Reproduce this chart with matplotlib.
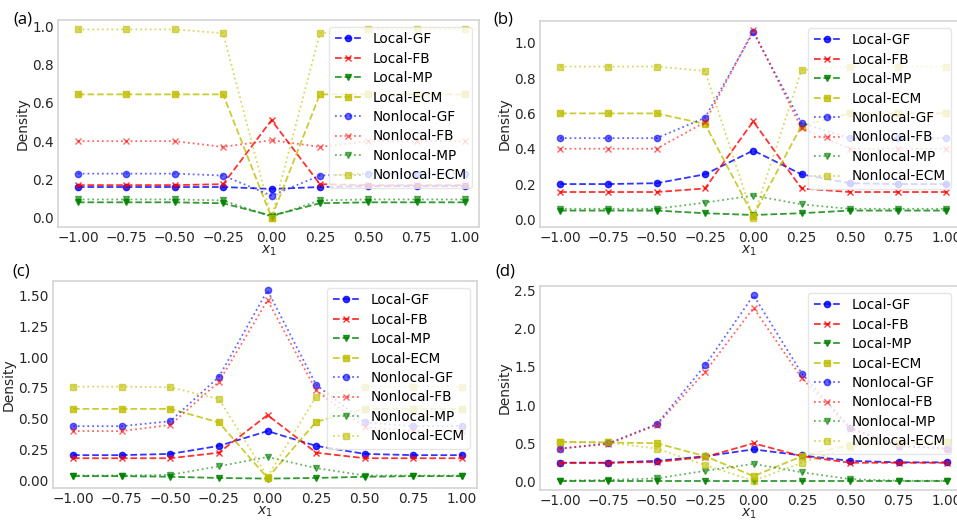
import numpy as np
import matplotlib
matplotlib.use('Agg')
from matplotlib import pyplot as plt

x = [-1.0, -0.75, -0.5, -0.25, 0.0, 0.25, 0.5, 0.75, 1.0]
labels = ['Local-GF', 'Local-FB', 'Local-MP', 'Local-ECM',
          'Nonlocal-GF', 'Nonlocal-FB', 'Nonlocal-MP', 'Nonlocal-ECM']

# panel (a)
local_gf_a = [0.16, 0.16, 0.16, 0.16, 0.15, 0.16, 0.165, 0.165, 0.165]
local_fb_a = [0.17, 0.17, 0.17, 0.175, 0.51, 0.175, 0.17, 0.17, 0.17]
local_mp_a = [0.08, 0.08, 0.08, 0.075, 0.01, 0.075, 0.08, 0.08, 0.08]
local_ecm_a = [0.645, 0.645, 0.645, 0.645, 0.0, 0.645, 0.645, 0.645, 0.645]
nl_gf_a = [0.23, 0.23, 0.23, 0.22, 0.115, 0.22, 0.23, 0.23, 0.23]
nl_fb_a = [0.40, 0.40, 0.40, 0.37, 0.405, 0.37, 0.40, 0.40, 0.40]
nl_mp_a = [0.095, 0.095, 0.095, 0.09, 0.005, 0.09, 0.095, 0.095, 0.095]
nl_ecm_a = [0.985, 0.985, 0.985, 0.965, 0.0, 0.965, 0.985, 0.985, 0.985]

# panel (b)
local_gf_b = [0.20, 0.20, 0.205, 0.255, 0.39, 0.255, 0.205, 0.20, 0.20]
local_fb_b = [0.155, 0.155, 0.155, 0.175, 0.555, 0.175, 0.155, 0.155, 0.155]
local_mp_b = [0.05, 0.05, 0.05, 0.035, 0.025, 0.035, 0.05, 0.05, 0.05]
local_ecm_b = [0.60, 0.60, 0.60, 0.54, 0.02, 0.53, 0.60, 0.60, 0.60]
nl_gf_b = [0.46, 0.46, 0.46, 0.575, 1.06, 0.545, 0.46, 0.46, 0.46]
nl_fb_b = [0.40, 0.40, 0.40, 0.55, 1.07, 0.515, 0.40, 0.40, 0.40]
nl_mp_b = [0.06, 0.06, 0.06, 0.095, 0.135, 0.085, 0.06, 0.06, 0.06]
nl_ecm_b = [0.865, 0.865, 0.865, 0.84, 0.01, 0.845, 0.865, 0.865, 0.865]

# panel (c)
local_gf_c = [0.205, 0.205, 0.215, 0.28, 0.40, 0.28, 0.215, 0.205, 0.205]
local_fb_c = [0.18, 0.18, 0.18, 0.225, 0.53, 0.225, 0.18, 0.18, 0.18]
local_mp_c = [0.035, 0.035, 0.03, 0.02, 0.015, 0.02, 0.03, 0.035, 0.035]
local_ecm_c = [0.58, 0.58, 0.58, 0.47, 0.02, 0.475, 0.58, 0.58, 0.58]
nl_gf_c = [0.44, 0.44, 0.48, 0.84, 1.54, 0.775, 0.47, 0.44, 0.44]
nl_fb_c = [0.40, 0.40, 0.45, 0.80, 1.46, 0.73, 0.43, 0.40, 0.40]
nl_mp_c = [0.04, 0.04, 0.045, 0.115, 0.19, 0.10, 0.04, 0.04, 0.04]
nl_ecm_c = [0.76, 0.76, 0.755, 0.66, 0.03, 0.68, 0.76, 0.76, 0.76]

# panel (d)
local_gf_d = [0.245, 0.245, 0.27, 0.33, 0.42, 0.34, 0.27, 0.25, 0.25]
local_fb_d = [0.245, 0.245, 0.255, 0.32, 0.50, 0.33, 0.245, 0.245, 0.245]
local_mp_d = [0.01, 0.01, 0.01, 0.01, 0.01, 0.01, 0.01, 0.01, 0.01]
local_ecm_d = [0.52, 0.51, 0.50, 0.33, 0.07, 0.33, 0.48, 0.50, 0.51]
nl_gf_d = [0.43, 0.50, 0.75, 1.52, 2.435, 1.41, 0.70, 0.47, 0.43]
nl_fb_d = [0.43, 0.49, 0.74, 1.435, 2.27, 1.35, 0.69, 0.46, 0.43]
nl_mp_d = [0.01, 0.02, 0.04, 0.14, 0.23, 0.12, 0.03, 0.01, 0.01]
nl_ecm_d = [0.51, 0.51, 0.43, 0.215, 0.01, 0.245, 0.45, 0.50, 0.51]

panels = [
    ('(a)', [local_gf_a, local_fb_a, local_mp_a, local_ecm_a, nl_gf_a, nl_fb_a, nl_mp_a, nl_ecm_a]),
    ('(b)', [local_gf_b, local_fb_b, local_mp_b, local_ecm_b, nl_gf_b, nl_fb_b, nl_mp_b, nl_ecm_b]),
    ('(c)', [local_gf_c, local_fb_c, local_mp_c, local_ecm_c, nl_gf_c, nl_fb_c, nl_mp_c, nl_ecm_c]),
    ('(d)', [local_gf_d, local_fb_d, local_mp_d, local_ecm_d, nl_gf_d, nl_fb_d, nl_mp_d, nl_ecm_d]),
]

colors = ['b', 'r', 'g', 'y'] * 2
markers = ['o', 'x', 'v', 's'] * 2
styles = ['--'] * 4 + [':'] * 4
alphas = [0.8] * 4 + [0.6] * 4

W, H = 957, 521
# axes boxes in pixels: left, right, top, bottom
boxes = [(58, 479, 20, 227), (540, 958, 21, 227), (53, 477, 281, 488), (540, 958, 286, 490)]
xlims = [(-1.103, 1.072), (-1.104, 1.06), (-1.103, 1.077), (-1.104, 1.057)]
tag_pos = [(13, 19), (493, 19), (12, 272), (495, 272)]

fig = plt.figure(figsize=(W / 100, H / 100), dpi=100)

for (tag, series), (l, r, t, b), xl, (tx, ty) in zip(panels, boxes, xlims, tag_pos):
    ax = fig.add_axes([l / W, 1 - b / H, (r - l) / W, (b - t) / H])
    for y, lab, c, m, ls, a in zip(series, labels, colors, markers, styles, alphas):
        ax.plot(x, y, linestyle=ls, marker=m, color=c, label=lab, alpha=a,
                linewidth=1.3, markersize=4.5)
    ax.set_xlim(*xl)
    ax.set_xticks([-1.0, -0.75, -0.5, -0.25, 0.0, 0.25, 0.5, 0.75, 1.0])
    ax.tick_params(length=0, labelsize=9.8, colors='#262626', pad=3)
    for s in ax.spines.values():
        s.set_color('#d4d4d4')
        s.set_linewidth(1.2)
    ax.set_ylabel('Density', fontsize=10, color='#262626', labelpad=2)
    ax.set_xlabel('$x_1$', fontsize=10, color='#262626', labelpad=-1)
    ax.legend(loc='upper right', fontsize=9.8, labelspacing=0.4,
              handlelength=2.0, framealpha=0.8, edgecolor='#e0e0e0')
    fig.text(tx / W, 1 - ty / H, tag, fontsize=12, ha='left', va='center',
             family='Open Sans')

fig.savefig('out.png', dpi=100)
